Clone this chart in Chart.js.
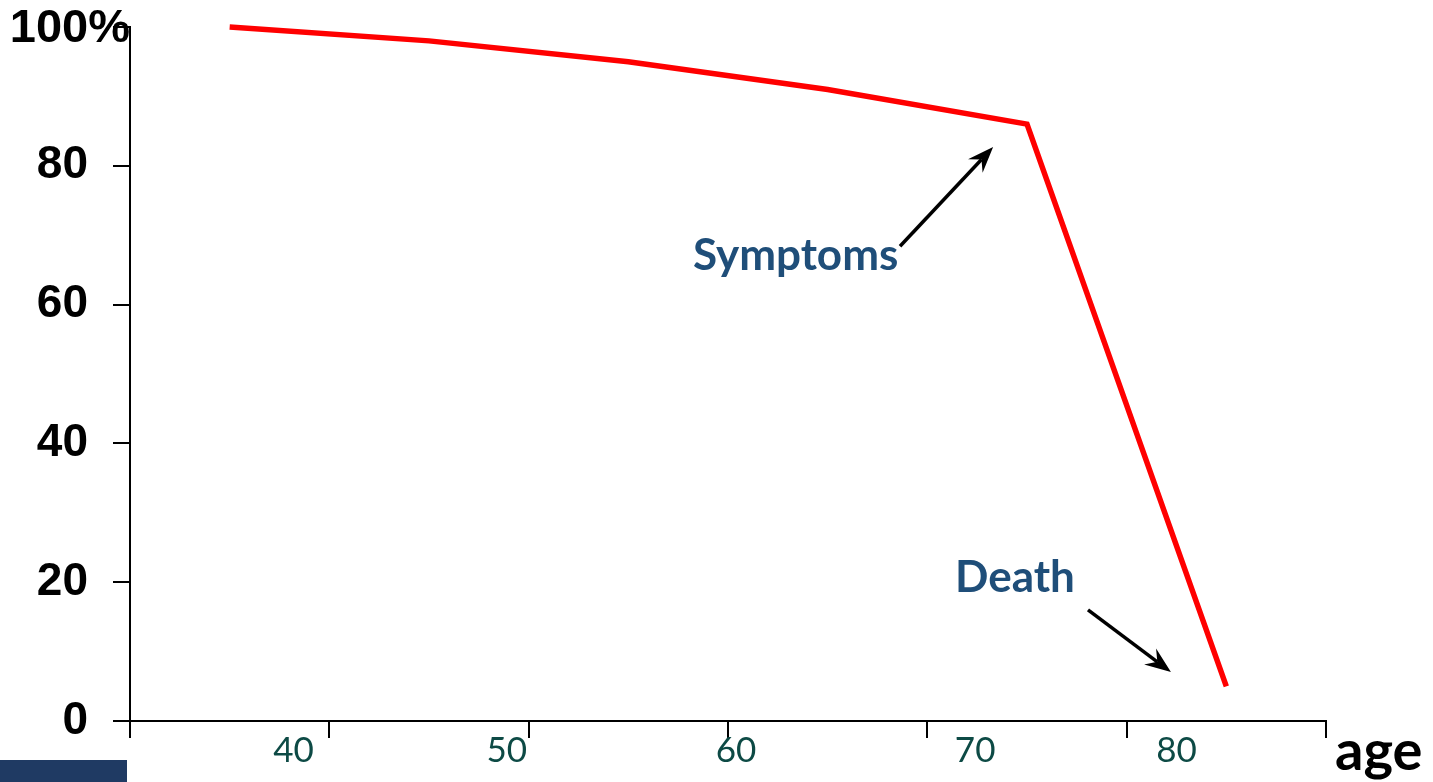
<!DOCTYPE html>
<html>
<head>
<meta charset="utf-8">
<title>Survival by age</title>
<script src="https://cdn.jsdelivr.net/npm/chart.js@4"></script>
<style>
  html, body { margin: 0; padding: 0; background: #fff; }
  #wrap { position: relative; width: 1433px; height: 782px; overflow: hidden; }
  #chart { position: absolute; left: 0; top: 0; }
  #footerBar { position: absolute; left: 0; top: 760px; width: 127px; height: 22px; background: #1F3A63; }
</style>
</head>
<body>
<div id="wrap">
  <canvas id="chart" width="1433" height="782"></canvas>
  <div id="footerBar"></div>
</div>
<script>
// Share of people still alive, one value per age band (x = band centre)
const bandCentres = [0.5, 1.5, 2.5, 3.5, 4.5, 5.5];
const survivalPct = [100, 98, 95, 91, 86, 5];

// Y tick values and the age labels under the x axis
const yTicks = [0, 20, 40, 60, 80, 100];
const ageLabels = ['40', '50', '60', '70', '80'];
const ageLabelPos = [0.82, 1.89, 3.04, 4.24, 5.25];

// Callouts: text anchor, arrow tail and arrow head, all in axis units
const calloutText = ['Symptoms', 'Death'];
const calloutAt = [[2.824, 65.0], [4.139, 18.6]];
const arrowFrom = [[3.863, 68.4], [4.806, 16.0]];
const arrowTo = [[4.33, 82.7], [5.222, 7.06]];

const callouts = {
  id: 'callouts',
  afterDraw(chart) {
    const { ctx, chartArea, scales: { x, y } } = chart;
    ctx.save();

    // age labels
    ctx.font = '35px Lato';
    ctx.fillStyle = '#0D4A45';
    ctx.textAlign = 'center';
    ctx.textBaseline = 'alphabetic';
    ageLabels.forEach((t, i) => {
      ctx.fillText(t, x.getPixelForValue(ageLabelPos[i]), chartArea.bottom + 41);
    });

    // axis titles
    ctx.fillStyle = '#000';
    ctx.font = 'bold 47px "Liberation Sans"';
    ctx.textAlign = 'right';
    ctx.textBaseline = 'middle';
    ctx.fillText('100%', chartArea.left, y.getPixelForValue(100) + 2);

    ctx.font = 'bold 56px Lato';
    ctx.textAlign = 'left';
    ctx.textBaseline = 'alphabetic';
    ctx.fillText('age', chartArea.right + 9, chartArea.bottom + 49);

    // callout texts
    ctx.font = 'bold 44px Lato';
    ctx.fillStyle = '#1F4E79';
    calloutText.forEach((t, i) => {
      ctx.fillText(t, x.getPixelForValue(calloutAt[i][0]), y.getPixelForValue(calloutAt[i][1]));
    });

    // arrows
    ctx.strokeStyle = '#000';
    ctx.fillStyle = '#000';
    ctx.lineWidth = 3.5;
    arrowFrom.forEach((a, i) => {
      const x0 = x.getPixelForValue(a[0]), y0 = y.getPixelForValue(a[1]);
      const x1 = x.getPixelForValue(arrowTo[i][0]), y1 = y.getPixelForValue(arrowTo[i][1]);
      const ang = Math.atan2(y1 - y0, x1 - x0);
      const len = 26, half = 10, notch = 17;
      const bx = x1 - Math.cos(ang) * notch, by = y1 - Math.sin(ang) * notch;
      ctx.beginPath();
      ctx.moveTo(x0, y0);
      ctx.lineTo(bx, by);
      ctx.stroke();
      const cx = x1 - Math.cos(ang) * len, cy = y1 - Math.sin(ang) * len;
      const nx = -Math.sin(ang), ny = Math.cos(ang);
      ctx.beginPath();
      ctx.moveTo(x1, y1);
      ctx.lineTo(cx + nx * half, cy + ny * half);
      ctx.lineTo(bx, by);
      ctx.lineTo(cx - nx * half, cy - ny * half);
      ctx.closePath();
      ctx.fill();
    });

    ctx.restore();
  }
};

new Chart(document.getElementById('chart'), {
  type: 'line',
  data: {
    datasets: [{
      data: bandCentres.map((c, i) => ({ x: c, y: survivalPct[i] })),
      borderColor: '#FF0000',
      borderWidth: 5.5,
      pointRadius: 0,
      tension: 0,
      borderJoinStyle: 'miter',
      borderCapStyle: 'butt',
      fill: false,
      clip: false
    }]
  },
  options: {
    responsive: false,
    maintainAspectRatio: false,
    devicePixelRatio: 1,
    animation: false,
    events: [],
    layout: { padding: { left: 0, top: 27, right: 107, bottom: 0 } },
    plugins: { legend: { display: false }, tooltip: { enabled: false }, title: { display: false } },
    scales: {
      x: {
        type: 'linear',
        min: 0,
        max: 6,
        ticks: { stepSize: 1, callback: () => '', font: { size: 1 }, padding: 0 },
        grid: { drawOnChartArea: false, drawTicks: true, tickLength: 17, color: '#000', lineWidth: 2 },
        border: { display: true, color: '#000', width: 2 },
        afterFit(scale) {
          scale.height = 61;
          scale.paddingLeft = 0;
          scale.paddingRight = 0;
        }
      },
      y: {
        min: 0,
        max: 100,
        afterBuildTicks(scale) { scale.ticks = yTicks.map(v => ({ value: v })); },
        ticks: {
          callback: (v) => (v === 100 ? '' : String(v)),
          color: '#000',
          font: { family: '"Liberation Sans"', size: 46, weight: 'bold' },
          padding: 25
        },
        grid: { drawOnChartArea: false, drawTicks: true, tickLength: 17, color: '#000', lineWidth: 2 },
        border: { display: true, color: '#000', width: 2 },
        afterFit(scale) {
          scale.width = 130;
          scale.paddingTop = 0;
          scale.paddingBottom = 0;
        }
      }
    }
  },
  plugins: [callouts]
});
</script>
</body>
</html>
